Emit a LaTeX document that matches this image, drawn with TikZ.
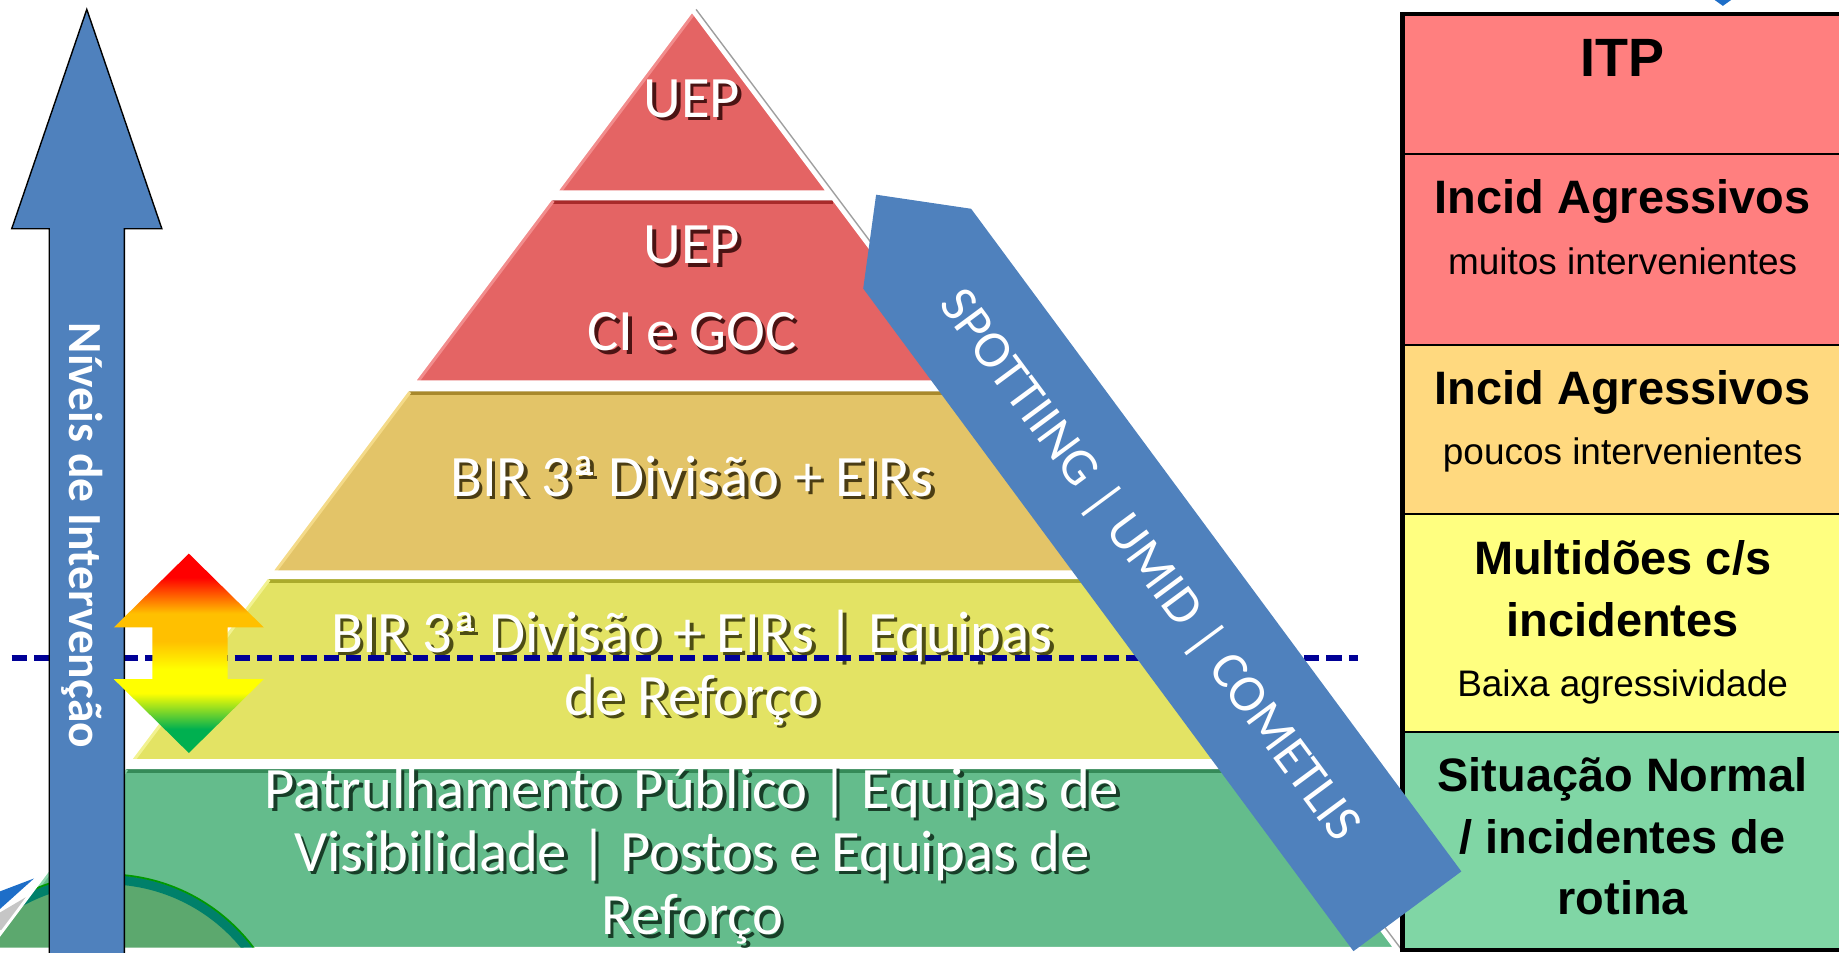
\documentclass[tikz,border=0pt]{standalone}
\usepackage{fontspec}
\newfontfamily\calibri{Carlito}
\newfontfamily\arial{Liberation Sans}
\usetikzlibrary{calc}
\definecolor{pred}{HTML}{E46464}
\definecolor{predD}{HTML}{A82A2A}
\definecolor{predL}{HTML}{F28C8C}
\definecolor{pgold}{HTML}{E3C468}
\definecolor{pgoldD}{HTML}{A8882C}
\definecolor{pgoldL}{HTML}{F4DA88}
\definecolor{pyel}{HTML}{E3E364}
\definecolor{pyelD}{HTML}{ABAB2C}
\definecolor{pyelL}{HTML}{F2F290}
\definecolor{pgrn}{HTML}{64BC8C}
\definecolor{pgrnD}{HTML}{358A58}
\definecolor{pgrnL}{HTML}{8AD6AA}
\definecolor{arrblue}{HTML}{4F81BD}
\definecolor{tred}{HTML}{FF7F7F}
\definecolor{torange}{HTML}{FFD97F}
\definecolor{tyel}{HTML}{FFFF80}
\definecolor{tgrn}{HTML}{80D6A5}
\definecolor{navyd}{HTML}{000096}
\definecolor{logoteal}{HTML}{00806A}
\definecolor{logogrn}{HTML}{5CA86E}
\definecolor{swblue}{HTML}{1E6EC8}
\definecolor{rr}{RGB}{255,0,0}
\definecolor{oo}{RGB}{255,192,0}
\definecolor{yy}{RGB}{255,255,0}
\definecolor{gg}{RGB}{0,176,80}
\pgfdeclareverticalshading{updown}{100bp}{color(0bp)=(gg); color(31bp)=(gg); color(40bp)=(yy); color(46bp)=(yy); color(53bp)=(oo); color(60bp)=(oo); color(69bp)=(rr); color(100bp)=(rr)}

% ordinal a with underline, as Calibri draws it
\newcommand{\orda}{ª\llap{\rule[0.36em]{0.3em}{0.045em}\kern0.03em}}

\tikzset{
  ptext/.style={font=\calibri\fontsize{50}{58}\selectfont, text=white, anchor=base, inner sep=0pt},
  tbold/.style={font=\arial\bfseries\fontsize{40}{48}\selectfont, anchor=base, inner sep=0pt},
  tbig/.style={font=\arial\bfseries\fontsize{46}{54}\selectfont, anchor=base, inner sep=0pt},
  treg/.style={font=\arial\fontsize{31.5}{38}\selectfont, anchor=base, inner sep=0pt},
}
% pyramid text line with shadow: name, x, y, shadow colour, text
\newcommand{\ptxt}[5]{%
  \node[ptext, text=black!55!#4] (#1s) at (#2+3,#3+3) {#5};
  \node[ptext] (#1) at (#2,#3) {#5};}
% table text: name, style, y, text
\newcommand{\ttxt}[4]{%
  \node[#2] (#1) at (1383.5,#3) {#4};}
% pyramid band: fill, dark, light, tl, tr, br, bl
\newcommand{\pband}[7]{%
  \begin{scope}
    \clip #4 -- #5 -- #6 -- #7 -- cycle;
    \fill[#1] #4 -- #5 -- #6 -- #7 -- cycle;
    \draw[#2, line width=8pt] #4 -- #5;
    \draw[#3, line width=7pt] #4 -- #7;
  \end{scope}
  \draw[white, line width=1.5pt] #4 -- #5 -- #6 -- #7 -- cycle;}

\begin{document}
\begin{tikzpicture}[x=1pt, y=-1pt]
\useasboundingbox (0,0) rectangle (1568,812);
\clip (0,0) rectangle (1568,812);

% logo remnants bottom-left
\fill[swblue] (0,760) -- (29,749) -- (0,775) -- cycle;
\fill[gray!45] (0,778) -- (22,765) -- (3,793) -- (0,793) -- cycle;

% pyramid bands
\pband{pred}{pred}{predL}{(590,10)}{(590,10)}{(704.75,163)}{(475.25,163)}
\pband{pred}{predD}{predL}{(470,170)}{(710,170)}{(826.25,325)}{(353.75,325)}
\pband{pgold}{pgoldD}{pgoldL}{(347.75,333)}{(832.25,333)}{(947.75,487)}{(232.25,487)}
\pband{pyel}{pyelD}{pyelL}{(227.75,493)}{(952.25,493)}{(1068.5,648)}{(111.5,648)}
\pband{pgrn}{pgrnD}{pgrnL}{(106.25,655)}{(1073.75,655)}{(1188.5,808)}{(-8.5,808)}
% globe behind the lowest band
\begin{scope}
  \clip (106.25,655) -- (1073.75,655) -- (1188.5,808) -- (-8.5,808) -- cycle;
  \fill[logogrn] (91,902) circle (150pt);
  \draw[logoteal, line width=8pt] (91,902) circle (152pt);
  \draw[green!60!black, line width=1.5pt] (91,902) circle (156.5pt);
\end{scope}
\draw[white, line width=2.5pt] (106.25,655) -- (-8.5,808);
% outline shadow of the pyramid
\draw[gray!75, line width=1.2pt] (593.5,8) -- (1194.5,809);

% pyramid texts
\ptxt{pa}{590}{100}{predD}{UEP}
\ptxt{pb}{590}{225}{predD}{UEP}
\ptxt{pc}{590}{299}{predD}{CI e GOC}
\ptxt{pd}{590}{423}{pgoldD}{BIR 3\orda{} Divisão + EIRs}
\ptxt{pe}{590}{556}{pyelD}{BIR 3\orda{} Divisão + EIRs | Equipas}
\ptxt{pf}{590}{610}{pyelD}{de Reforço}
\ptxt{pg}{590}{689}{pgrnD}{Patrulhamento Público | Equipas de}
\ptxt{ph}{590}{743}{pgrnD}{Visibilidade | Postos e Equipas de}
\ptxt{pi}{590}{797}{pgrnD}{Reforço}

% dashed threshold line
\coordinate (dl) at (10,561);
\coordinate (dr) at (1158,561);
\draw[navyd, line width=4.5pt, dash pattern=on 13pt off 6pt] (dl) -- (dr);

% vertical arrow
\draw[fill=arrblue, draw=black, line width=1.2pt] (74,8) -- (138,195) -- (106,195) -- (106,820) -- (42,820) -- (42,195) -- (10,195) -- cycle;
\node[rotate=-90, anchor=base, inner sep=0pt, text=white,
      font=\calibri\bfseries\fontsize{40.5}{48}\selectfont] (niv) at (59,456.5) {Níveis de Intervenção};

% up-down gradient arrow
\shade[shading=updown] (161,472) -- (225,535) -- (194,535) -- (194,579) -- (225,579) -- (161,642)
   -- (97,579) -- (130,579) -- (130,535) -- (97,535) -- cycle;

% table
\fill[tred] (1196,12) rectangle (1575,294);
\fill[torange] (1196,294) rectangle (1575,438);
\fill[tyel] (1196,438) rectangle (1575,624);
\fill[tgrn] (1196,624) rectangle (1575,810);
\foreach \yy in {131,294,438,624} \draw[black, line width=1.8pt] (1196,\yy) -- (1575,\yy);
\draw[black, line width=4pt] (1575,12) -- (1196,12) -- (1196,810) -- (1575,810);
\fill[swblue] (1462,0) -- (1476,0) -- (1469,5) -- cycle;

\ttxt{ta}{tbig}{65}{ITP}
\ttxt{tb}{tbold}{182}{Incid Agressivos}
\ttxt{tc}{treg}{234}{muitos intervenientes}
\ttxt{td}{tbold}{345}{Incid Agressivos}
\ttxt{te}{treg}{396}{poucos intervenientes}
\ttxt{tf}{tbold}{490}{Multidões c/s}
\ttxt{tg}{tbold}{543}{incidentes}
\ttxt{th}{treg}{594}{Baixa agressividade}
\ttxt{ti}{tbold}{675}{Situação Normal}
\ttxt{tj}{tbold}{727.5}{/ incidentes de}
\ttxt{tk}{tbold}{780}{rotina}

% diagonal blue arrow
\fill[arrblue] (747,166) -- (828,178) -- (1246,743) -- (1154,811) -- (736,246) -- cycle;
\node[rotate=-53.5, anchor=base, inner sep=0pt, text=white,
      font=\calibri\fontsize{45}{52}\selectfont] (spot) at (970,490) {SPOTTIING | UMID | COMETLIS};
\end{tikzpicture}
\end{document}
